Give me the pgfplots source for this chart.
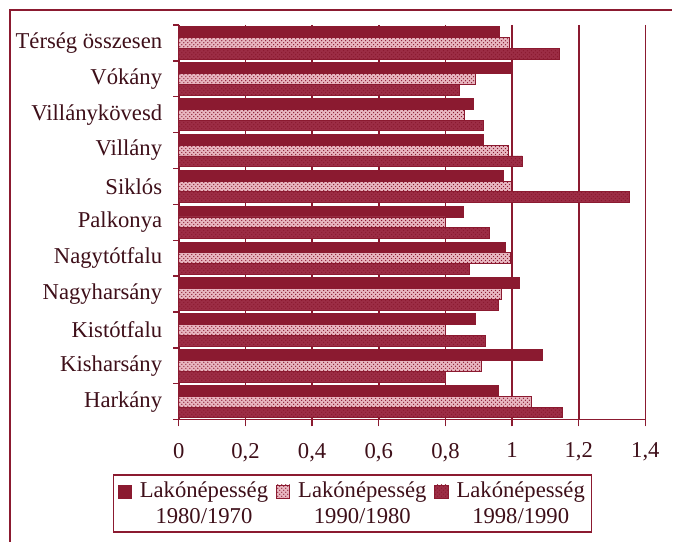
\documentclass[border=0pt]{standalone}
\usepackage{fontspec}
\setmainfont{Liberation Serif}
\usepackage{pgfplots}
\usepackage{pgfplotstable}
\pgfplotsset{compat=1.18}
\usetikzlibrary{patterns}

\definecolor{bordo}{HTML}{8B1A30}
\definecolor{bordoB}{HTML}{9C2D45}
\definecolor{rosa}{HTML}{E8B6C0}
\definecolor{txt}{HTML}{3E0F19}

% telepules index, 1980/1970, 1990/1980, 1998/1990
\pgfplotstableread{
idx a b c
0  0.963 0.991 1.143
1  1.000 0.890 0.843
2  0.883 0.858 0.913
3  0.913 0.990 1.031
4  0.973 0.998 1.353
5  0.853 0.800 0.931
6  0.980 0.995 0.871
7  1.021 0.968 0.960
8  0.890 0.800 0.919
9  1.090 0.909 0.800
10 0.960 1.058 1.151
}\data

\newcommand{\fnt}{\fontsize{17}{19}\selectfont}
\newcommand{\lfnt}{\fontsize{17}{19.5}\selectfont}

\begin{document}
\begin{tikzpicture}
\begin{axis}[
  scale only axis, width=350.25pt, height=296.25pt,
  xbar, bar width=0.3,
  xmin=0, xmax=1.4, ymin=-0.5, ymax=10.5, y dir=reverse,
  clip=false,
  axis x line*=bottom, axis y line*=left,
  axis line style={bordo, line width=1pt},
  xtick={0,0.2,0.4,0.6,0.8,1,1.2,1.4},
  ytick={0,...,10},
  yticklabels={Térség összesen,Vókány,Villánykövesd,Villány,Siklós,Palkonya,Nagytótfalu,Nagyharsány,Kistótfalu,Kisharsány,Harkány},
  minor ytick={-0.5,0.5,...,10.5},
  major y tick style={draw=none},
  tick style={bordo, line width=1pt},
  tick align=outside,
  major tick length=5pt, minor tick length=4pt,
  xmajorgrids, major grid style={draw=bordo, line width=1.2pt},
  /pgf/number format/use comma,
  /pgf/number format/assume math mode=true,
  tick label style={font=\fnt, text=txt},
  xticklabel style={yshift=-9pt},
  yticklabel style={xshift=-4pt},
  legend columns=3,
  legend style={at={(axis description cs:-0.141,-0.139)}, anchor=north west,
    draw=bordo, line width=1pt, font=\lfnt, text=txt,
    cells={align=center}, inner xsep=3pt, inner ysep=3pt},
  /tikz/every odd column/.append style={column sep=4pt},
  /tikz/every even column/.append style={column sep=4pt},
  legend image code/.code={
    \draw[#1, line width=0.6pt] (0pt,4pt) rectangle (10pt,14pt);
  },
]
\addplot[draw=bordo, fill=bordo, line width=0.6pt, bar shift=-0.3]
  table[x=a, y=idx]{\data};
\addlegendentry{Lakónépesség\\1980/1970}
\addplot[draw=bordo, fill=rosa, line width=0.6pt, bar shift=0,
  postaction={pattern=crosshatch dots, pattern color=bordo}]
  table[x=b, y=idx]{\data};
\addlegendentry{Lakónépesség\\1990/1980}
\addplot[draw=bordo, fill=bordoB, line width=0.6pt, bar shift=0.3,
  postaction={pattern=crosshatch dots, pattern color=bordo}]
  table[x=c, y=idx]{\data};
\addlegendentry{Lakónépesség\\1998/1990}

\path (axis description cs:-0.3833,-0.309) rectangle (axis description cs:1.0578,1.0633);
\draw[bordo, line width=1pt] (axis description cs:-0.3619,-0.309)
  -- (axis description cs:-0.3619,1.038) -- (axis description cs:1.0578,1.038);
\end{axis}
\end{tikzpicture}
\end{document}
